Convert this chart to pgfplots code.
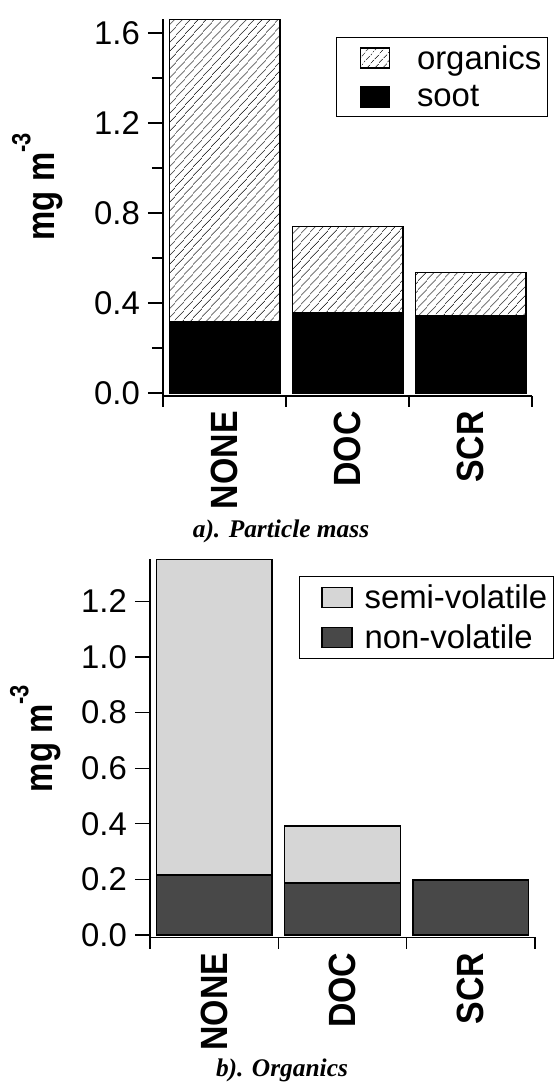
\documentclass[border=0pt]{standalone}
\usepackage{pgfplots}
\pgfplotsset{compat=1.18}
\usepackage{pgfplotstable}
\usepackage{fontspec}
\setmainfont{Liberation Sans}
\newfontfamily\serifbi{Liberation Serif}
\usetikzlibrary{patterns.meta}

\pgfplotstableread{
cat soot org
0 0.316 1.344
1 0.355 0.384
2 0.343 0.192
}\tabA
\pgfplotstableread{
cat nonvol semivol
0 0.216 1.134
1 0.187 0.205
2 0.198 0.000
}\tabB

\definecolor{semigray}{HTML}{D6D6D6}
\definecolor{nongray}{HTML}{484848}
\definecolor{hatchgray}{HTML}{303030}

\pgfplotsset{
  mystyle/.style={
    scale only axis,
    axis x line*=bottom, axis y line*=left,
    axis line style={line width=1.3bp, black},
    xmin=-0.5, xmax=2.5,
    xtick={0,1,2}, xticklabels={NONE,DOC,SCR},
    minor xtick={-0.5,0.5,1.5,2.5},
    major x tick style={draw=none},
    tick align=outside,
    major tick length=15bp, minor tick length=11bp,
    every tick/.style={line width=1.3bp, black},
    ybar stacked, bar width=0.9,
    xticklabel style={rotate=90, anchor=east, font=\fontsize{34}{36}\selectfont\bfseries, inner sep=0pt, yscale=1.12},
    yticklabel style={font=\fontsize{33}{36}\selectfont, inner xsep=8bp, inner ysep=0pt},
    /pgf/number format/.cd, fixed, fixed zerofill, precision=1, assume math mode=true, /pgfplots/.cd,
    legend cell align=left,
    reverse legend,
  },
  imgA/.style={legend image code/.code={\path (-19bp,0) (54bp,0); \draw[##1] (0bp,-10bp) rectangle (29bp,10bp);}},
  imgB/.style={legend image code/.code={\path (-18bp,0) (40bp,0); \draw[##1] (0bp,-10bp) rectangle (30bp,10bp);}},
}

\begin{document}
\begin{tikzpicture}[x=1bp,y=1bp]
\useasboundingbox (0,0) rectangle (555,1084);

% ---------- panel a ----------
\begin{axis}[mystyle,
  at={(163bp,688bp)}, anchor=south west,
  width=369bp, height=376.5bp,
  ymin=-0.0133, ymax=1.66,
  ytick={0,0.4,0.8,1.2,1.6}, minor ytick={0.2,0.6,1.0,1.4},
  ylabel={mg m\raisebox{20bp}{\fontsize{22}{22}\selectfont -3}},
  ylabel style={at={(rel axis cs:-0.271,0.556)}, anchor=south, inner sep=0pt,
    font=\fontsize{33}{36}\selectfont\bfseries, yscale=1.2},
  legend style={at={(rel axis cs:1.043,0.954)}, anchor=north east,
    draw=black, line width=1.2bp, font=\fontsize{33}{36}\selectfont,
    inner xsep=4bp, inner ysep=6bp, nodes={inner sep=2bp}, row sep=11bp},
]
\addplot[fill=black, draw=black, line width=1.3bp, imgA] table[x=cat,y=soot]{\tabA};
\addlegendentry{soot}
\addplot[fill=white, draw=black, line width=1.3bp,
  postaction={pattern={Lines[angle=48,distance=6bp,line width=1bp]}, pattern color=hatchgray}, imgA]
  table[x=cat,y=org]{\tabA};
\addlegendentry{organics}
\end{axis}

\node[font=\fontsize{25.5}{28}\selectfont\serifbi\bfseries\itshape, anchor=base] at (281,546) {a). Particle mass};

% ---------- panel b ----------
\begin{axis}[mystyle,
  at={(150bp,146.5bp)}, anchor=south west,
  width=385bp, height=378.4bp,
  ymin=-0.009, ymax=1.352,
  ytick={0,0.2,0.4,0.6,0.8,1.0,1.2},
  ylabel={mg m\raisebox{20bp}{\fontsize{22}{22}\selectfont -3}},
  ylabel style={at={(rel axis cs:-0.231,0.526)}, anchor=south, inner sep=0pt,
    font=\fontsize{33}{36}\selectfont\bfseries, yscale=1.2},
  legend style={at={(rel axis cs:1.049,0.955)}, anchor=north east,
    draw=black, line width=1.2bp, font=\fontsize{33}{36}\selectfont,
    inner xsep=4bp, inner ysep=6bp, nodes={inner sep=2bp}, row sep=11bp},
]
\addplot[fill=nongray, draw=black, line width=1.2bp, imgB] table[x=cat,y=nonvol]{\tabB};
\addlegendentry{non-volatile}
\addplot[fill=semigray, draw=black, line width=1.2bp, imgB] table[x=cat,y=semivol]{\tabB};
\addlegendentry{semi-volatile}
\end{axis}

\node[font=\fontsize{25.5}{28}\selectfont\serifbi\bfseries\itshape, anchor=base] at (282,7) {b). Organics};
\end{tikzpicture}
\end{document}
